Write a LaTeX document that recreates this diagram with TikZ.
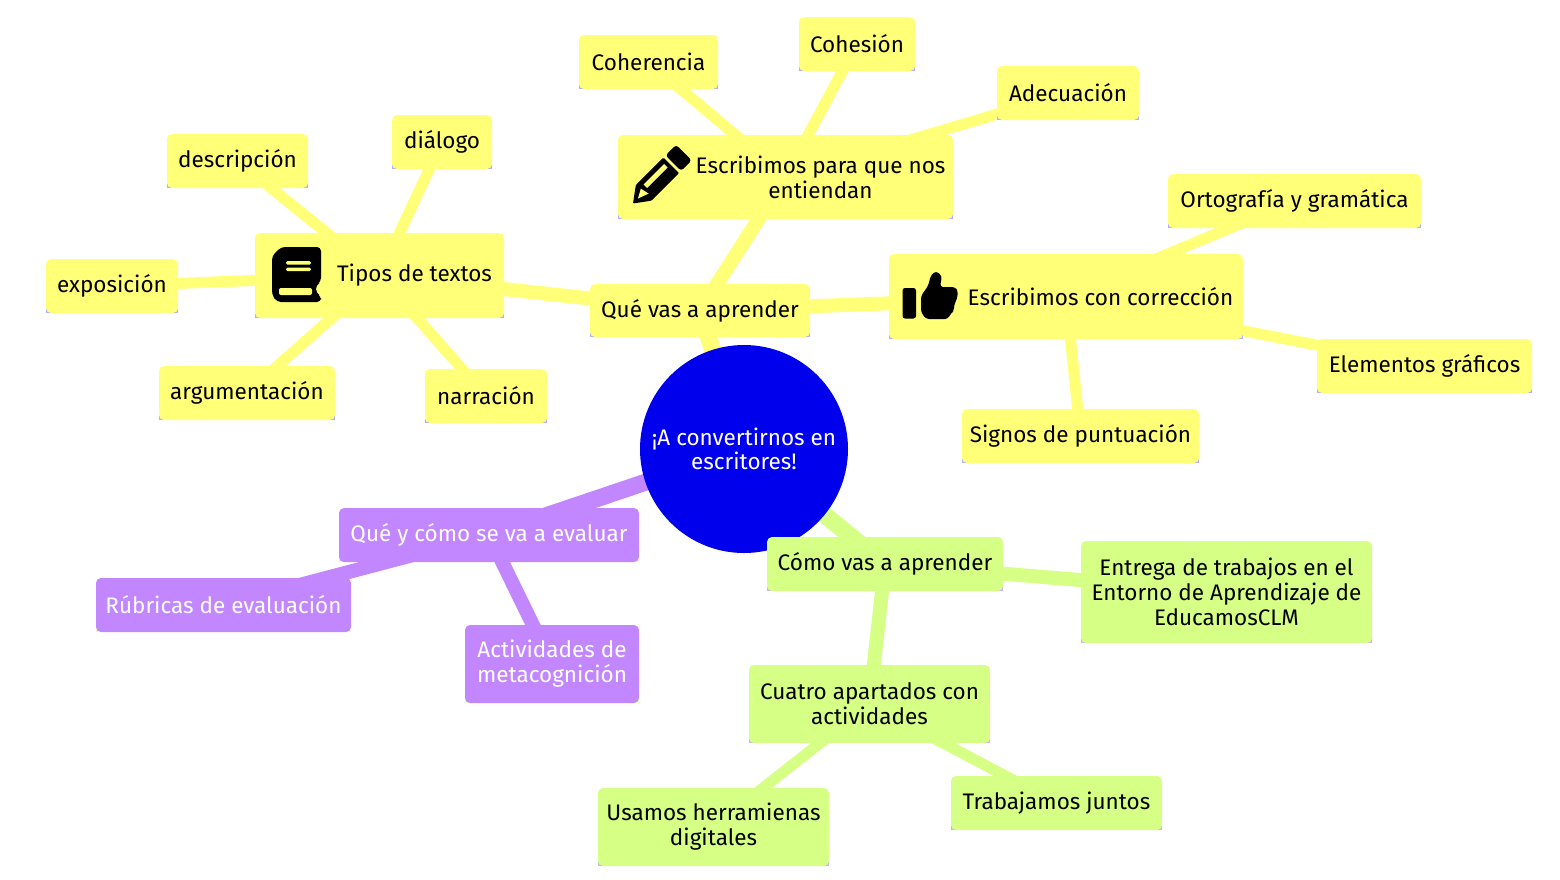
\documentclass[tikz,border=0pt]{standalone}
\usepackage{fontspec}
\setmainfont{Fira Sans}
\pgfdeclarelayer{background}
\pgfsetlayers{background,main}
\definecolor{rootblue}{HTML}{0000EC}
\definecolor{secyellow}{HTML}{FFFF78}
\definecolor{secgreen}{HTML}{D5FF85}
\definecolor{secpurple}{HTML}{C286FF}
\definecolor{lineyellow}{HTML}{AFAFFF}
\definecolor{linegreen}{HTML}{CFB0FF}
\definecolor{linepurple}{HTML}{E0FFBC}
\tikzset{
	mapbox/.style 2 args={fill=#1, rounded corners=5pt, inner sep=0pt, align=center,
		font=\fontsize{22.5}{25}\selectfont,
		append after command={\pgfextra{\fill[#2] (\tikzlastnode.south west) rectangle ([yshift=4.5pt]\tikzlastnode.south east);}}},
	yellowbox/.style={mapbox={secyellow}{lineyellow}, text=black},
	greenbox/.style={mapbox={secgreen}{linegreen}, text=black},
	purplebox/.style={mapbox={secpurple}{linepurple}, text=white},
	boxsize/.style args={#1/#2}{minimum width=#1pt, minimum height=#2pt},
	boxlabel/.style={inner sep=0pt, align=center, font=\fontsize{22.5}{25}\selectfont},
}
\begin{document}
\begin{tikzpicture}[x=1pt,y=1pt]
	\useasboundingbox (0,0) rectangle (1560,-879);
	\node[circle, fill=rootblue, minimum size=208pt, inner sep=0pt, align=center, text=white, font=\fontsize{22.5}{24}\selectfont] (root) at (744,-449) {¡A convertirnos en\\escritores!};
	% yellow branch
	\node[yellowbox, boxsize=220/53] (aprender) at (700,-310.5) {Qué vas a aprender};
	\node[yellowbox, boxsize=335/84] (entiendan) at (785.5,-177) {};
	\node[boxlabel] (entiendanlabel) at (820.5,-177.5) {Escribimos para que nos\\entiendan};
	\node[yellowbox, boxsize=139/54] (coherencia) at (648.5,-62) {Coherencia};
	\node[yellowbox, boxsize=116/54] (cohesion) at (857,-44) {Cohesión};
	\node[yellowbox, boxsize=142/54] (adecuacion) at (1068,-93) {Adecuación};
	\node[yellowbox, boxsize=354/85] (correccion) at (1066,-296.5) {};
	\node[boxlabel] (correccionlabel) at (1100.5,-297) {Escribimos con corrección};
	\node[yellowbox, boxsize=253/54] (ortografia) at (1294.5,-201) {Ortografía y gramática};
	\node[yellowbox, boxsize=215/54] (graficos) at (1424.5,-366) {Elementos gráficos};
	\node[yellowbox, boxsize=237/54] (signos) at (1080.5,-436) {Signos de puntuación};
	\node[yellowbox, boxsize=249/85] (tipos) at (379.5,-275.5) {};
	\node[boxlabel] (tiposlabel) at (414.5,-275.5) {Tipos de textos};
	\node[yellowbox, boxsize=141/54] (descripcion) at (237.5,-161) {descripción};
	\node[yellowbox, boxsize=100/54] (dialogo) at (442,-142) {diálogo};
	\node[yellowbox, boxsize=132/54] (exposicion) at (112,-286) {exposición};
	\node[yellowbox, boxsize=176/54] (argumentacion) at (247,-393) {argumentación};
	\node[yellowbox, boxsize=122/54] (narracion) at (486,-396) {narración};
	% purple branch
	\node[purplebox, boxsize=300/54] (evaluar) at (489,-535) {Qué y cómo se va a evaluar};
	\node[purplebox, boxsize=255/54] (rubricas) at (223.5,-605) {Rúbricas de evaluación};
	\node[purplebox, boxsize=174/78] (metacognicion) at (552,-664) {Actividades de\\metacognición};
	% green branch
	\node[greenbox, boxsize=236/54] (como) at (885,-564) {Cómo vas a aprender};
	\node[greenbox, boxsize=291/102] (entrega) at (1226.5,-592) {Entrega de trabajos en el\\Entorno de Aprendizaje de\\EducamosCLM};
	\node[greenbox, boxsize=241/78] (apartados) at (869.5,-704) {Cuatro apartados con\\actividades};
	\node[greenbox, boxsize=231/78] (herramientas) at (713.5,-827) {Usamos herramienas\\digitales};
	\node[greenbox, boxsize=211/54] (juntos) at (1056.5,-803) {Trabajamos juntos};
	\begin{pgfonlayer}{background}
		\foreach \from/\to/\wd/\col in {root/aprender/17/secyellow, root/evaluar/17/secpurple, root/como/17/secgreen,
				aprender/entiendan/14/secyellow, aprender/correccion/14/secyellow, aprender/tipos/14/secyellow,
				evaluar/rubricas/14/secpurple, evaluar/metacognicion/14/secpurple,
				como/entrega/14/secgreen, como/apartados/14/secgreen,
				entiendan/coherencia/11/secyellow, entiendan/cohesion/11/secyellow, entiendan/adecuacion/11/secyellow,
				correccion/ortografia/11/secyellow, correccion/graficos/11/secyellow, correccion/signos/11/secyellow,
				tipos/descripcion/11/secyellow, tipos/dialogo/11/secyellow, tipos/exposicion/11/secyellow,
				tipos/argumentacion/11/secyellow, tipos/narracion/11/secyellow,
				apartados/herramientas/11/secgreen, apartados/juntos/11/secgreen} {
			\draw[\col, line width=\wd pt] (\from.center) -- (\to.center);
		}
	\end{pgfonlayer}
	% book icon
	\fill[rounded corners=4pt] (272,-256) -- (272,-295) -- (277,-302) -- (321,-302) -- (321,-296) -- (316,-293) -- (316,-285) -- (321,-282) -- (321,-247) -- (281,-247) -- cycle;
	\fill[secyellow, rounded corners=1.5pt] (286,-261) rectangle (311,-264.5);
	\fill[secyellow, rounded corners=1.5pt] (286,-267.5) rectangle (311,-271);
	\fill[secyellow, rounded corners=2pt] (279,-288) rectangle (312,-295);
	% pencil icon
	\begin{scope}[shift={(633,-203.5)}, rotate=45]
		\fill[rounded corners=1pt] (0,0) -- (15,11) -- (54,11) -- (54,-11) -- (15,-11) -- cycle;
		\fill[rounded corners=3pt] (57,11) rectangle (72,-11);
		\fill[secyellow] (21,1) rectangle (50,6);
		\fill[secyellow] (7,0) -- (16,5) -- (18,-4) -- cycle;
	\end{scope}
	% thumb icon
	\fill[rounded corners=2.5pt] (902.5,-288) rectangle (916,-318.5);
	\fill[rounded corners=3pt] (921,-296) -- (921,-312) -- (926,-319) -- (948,-319) -- (951,-313) -- (954,-311) -- (954,-305) -- (957,-299) -- (958,-291) -- (955,-287) -- (940,-287) -- (942,-276) -- (936,-271) -- (931,-275) -- (928,-286) -- cycle;
\end{tikzpicture}
\end{document}
